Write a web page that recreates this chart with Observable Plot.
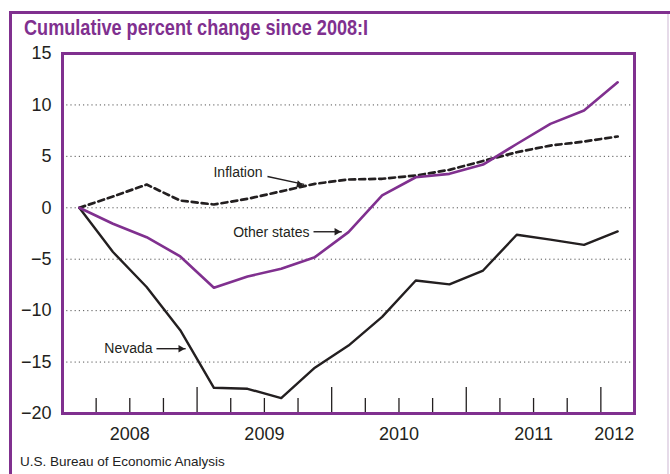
<!DOCTYPE html>
<html><head><meta charset="utf-8">
<script src="https://cdn.jsdelivr.net/npm/d3@7"></script>
<script src="https://cdn.jsdelivr.net/npm/@observablehq/plot@0.6"></script>
<style>
body{margin:0;background:#fff;font-family:"Liberation Sans",Arial,sans-serif;}
#wrap{position:relative;width:670px;height:474px;overflow:hidden;background:#fff;}
#border{position:absolute;left:9px;top:11px;width:700px;height:500px;border-left:3px solid #80308f;border-top:3px solid #80308f;}
#rborder{position:absolute;left:667px;top:14px;width:2px;height:460px;background:#e6dbe9;}
#title{position:absolute;left:24px;top:15px;font-weight:bold;font-size:22px;line-height:26px;color:#80308f;white-space:nowrap;transform:scaleX(0.823);transform-origin:0 0;}
#source{position:absolute;left:20px;top:454px;font-size:13.5px;line-height:16px;color:#222;white-space:nowrap;}
#chart{position:absolute;left:0;top:0;}
</style></head>
<body><div id="wrap"><div id="border"></div><div id="rborder"></div><div id="chart"></div><div id="title">Cumulative percent change since 2008:I</div><div id="source">U.S. Bureau of Economic Analysis</div></div>
<script>
// Quarterly observations, 2008:I – 2012:I
const quarters = ["2008:1","2008:2","2008:3","2008:4","2009:1","2009:2","2009:3","2009:4","2010:1","2010:2","2010:3","2010:4","2011:1","2011:2","2011:3","2011:4","2012:1"];
const nevada = [0, -4.3, -7.7, -11.9, -17.5, -17.6, -18.5, -15.55, -13.4, -10.6, -7.07, -7.45, -6.1, -2.62, -3.1, -3.6, -2.3];
const otherStates = [0, -1.55, -2.86, -4.73, -7.77, -6.68, -5.93, -4.8, -2.37, 1.2, 2.97, 3.3, 4.2, 6.2, 8.16, 9.46, 12.2];
const inflation = [0, 1.1, 2.26, 0.7, 0.32, 0.87, 1.6, 2.33, 2.75, 2.82, 3.14, 3.69, 4.55, 5.4, 6.05, 6.44, 6.93];

const yTicks = [-20, -15, -10, -5, 0, 5, 10, 15];
const gridValues = [-15, -10, -5, 0, 5, 10];
const yearLabels = ["2008", "2009", "2010", "2011", "2012"];
const yearLabelPos = [2008.5, 2009.5, 2010.5, 2011.5, 2012.1];
const yearTicks = [2009, 2010, 2011, 2012];
const quarterTicks = [2008.25, 2008.5, 2008.75, 2009.25, 2009.5, 2009.75, 2010.25, 2010.5, 2010.75, 2011.25, 2011.5, 2011.75, 2012.25];

const labelText = ["Inflation", "Other states", "Nevada"];
const labelX = [2009.486, 2009.835, 2008.669];
const labelY = [3.43, -2.4, -13.68];
const arrowX1 = [2009.523, 2009.865, 2008.698];
const arrowY1 = [3.04, -2.33, -13.7];
const arrowX2 = [2009.795, 2010.075, 2008.915];
const arrowY2 = [2.27, -2.33, -13.7];
const arrowAngle = [102.5, 90, 90];

const toX = q => { const [y, n] = q.split(":").map(Number); return y + (n - 0.5) / 4; };
const rows = quarters.map((q, i) => ({x: toX(q), nevada: nevada[i], other: otherStates[i], inflation: inflation[i]}));
const labels = labelText.map((t, i) => ({t, x: labelX[i], y: labelY[i]}));
const arrows = labelText.map((t, i) => ({x1: arrowX1[i], y1: arrowY1[i], x2: arrowX2[i], y2: arrowY2[i], a: arrowAngle[i]}));
const years = yearLabels.map((t, i) => ({t, x: yearLabelPos[i]}));

const purple = "#80308f";
const ink = "#231f20";
const minus = d => d < 0 ? "\u2212" + Math.abs(d) : String(d);

const chart = Plot.plot({
  width: 670, height: 474,
  marginLeft: 62, marginRight: 36, marginTop: 53, marginBottom: 61,
  style: {fontFamily: "'Liberation Sans', Arial, sans-serif", background: "transparent", color: ink},
  x: {domain: [2008, 2012.25], axis: null},
  y: {domain: [-20, 15], axis: null},
  marks: [
    Plot.gridY(gridValues, {stroke: "#555", strokeOpacity: 1, strokeWidth: 1, strokeDasharray: "1.2,3"}),
    Plot.tickX(quarterTicks, {x: d => d, insetTop: 345, stroke: ink, strokeWidth: 1.3}),
    Plot.tickX(yearTicks, {x: d => d, insetTop: 334, stroke: ink, strokeWidth: 1.3}),
    Plot.line(rows, {x: "x", y: "inflation", stroke: ink, strokeWidth: 2.7, strokeDasharray: "6,4"}),
    Plot.line(rows, {x: "x", y: "nevada", stroke: ink, strokeWidth: 2.4}),
    Plot.line(rows, {x: "x", y: "other", stroke: purple, strokeWidth: 2.6}),
    Plot.frame({stroke: purple, strokeWidth: 3}),
    Plot.axisY({ticks: yTicks, tickSize: 0, tickPadding: 11, fontSize: 18, tickFormat: minus}),
    Plot.text(years, {x: "x", text: "t", frameAnchor: "bottom", dy: 26, fontSize: 18, fill: ink}),
    Plot.text(labels, {x: "x", y: "y", text: "t", textAnchor: "end", fontSize: 14, fill: ink}),
    Plot.link(arrows, {x1: "x1", y1: "y1", x2: "x2", y2: "y2", stroke: ink, strokeWidth: 1.4}),
    Plot.dot(arrows, {x: "x2", y: "y2", symbol: "triangle2", r: 3.6, fill: ink, stroke: "none", rotate: "a", dx: -5}),
  ]
});
document.getElementById("chart").appendChild(chart);
</script>
</body></html>
